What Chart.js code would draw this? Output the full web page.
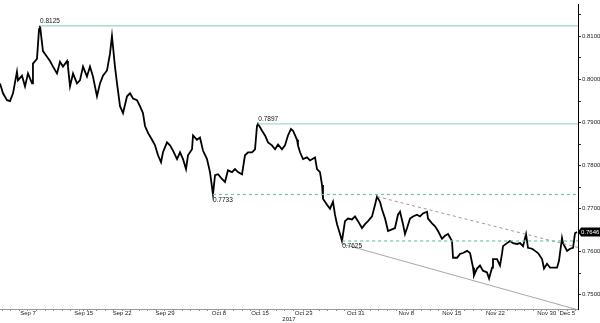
<!DOCTYPE html>
<html lang="en">
<head>
  <meta charset="UTF-8">
  <title>AUD/USD - Sep to Dec 2017</title>
  <script src="https://cdn.jsdelivr.net/npm/chart.js"></script>
  <style>
    body { margin: 0; background: #fff; }
    #wrap { width: 600px; height: 323px; }
  </style>
</head>
<body>
  <div id="wrap"><canvas id="chart"></canvas></div>

  <script>
    // x = trading days counted from Sep 7 2017
    const days = [
      -3.27, -2.92, -2.45, -2.10, -1.75, -1.29, -1.17, -0.70, -0.35, 0.00,
      0.47, 0.58, 1.05, 1.29, 1.40, 1.75, 2.22, 2.57, 2.92, 3.39,
      3.74, 4.09, 4.56, 4.67, 4.91, 5.26, 5.72, 6.07, 6.43, 6.89,
      7.24, 7.59, 8.06, 8.41, 8.76, 9.23, 9.58, 9.81, 10.16, 10.40,
      10.75, 11.10, 11.57, 11.92, 12.27, 12.73, 13.08, 13.43, 13.67, 14.02,
      14.49, 14.84, 15.19, 15.54, 15.77, 16.24, 16.59, 16.94, 17.41, 17.76,
      18.11, 18.46, 18.69, 19.16, 19.28, 19.74, 20.09, 20.44, 20.91, 21.26,
      21.61, 21.85, 22.20, 22.66, 23.01, 23.36, 23.83, 24.18, 24.53, 25.00,
      25.35, 25.70, 26.17, 26.52, 26.75, 26.87, 27.34, 27.69, 28.04, 28.50,
      28.86, 29.21, 29.67, 30.02, 30.37, 30.72, 30.96, 31.43, 31.54, 31.78,
      32.13, 32.59, 32.94, 33.53, 33.76, 34.11, 34.35, 34.46, 34.93, 35.28,
      35.63, 35.86, 36.10, 36.45, 36.68, 37.03, 37.38, 37.85, 38.20, 38.55,
      39.02, 39.37, 39.72, 40.19, 40.54, 40.77, 41.12, 41.36, 41.71, 42.06,
      42.52, 42.87, 43.22, 43.46, 43.81, 44.04, 44.28, 44.63, 44.98, 45.44,
      45.79, 46.14, 46.61, 46.73, 47.20, 47.55, 47.90, 48.36, 48.71, 49.07,
      49.53, 49.65, 50.12, 50.47, 50.82, 51.29, 51.64, 51.99, 52.10, 52.45,
      52.80, 53.15, 53.62, 53.86, 54.21, 54.32, 54.79, 55.14, 55.37, 55.49,
      55.96, 56.31, 56.66, 57.13, 57.48, 57.83, 58.18, 58.41, 58.88, 59.23,
      59.58, 60.05, 60.28, 60.63, 60.98, 61.33, 61.80, 62.03, 62.38, 62.50,
      62.97, 63.32, 63.67, 63.90, 64.14
    ];
    const prices = [
      0.7991, 0.7968, 0.7952, 0.7950, 0.7968, 0.8018, 0.7998, 0.8009, 0.7984, 0.8014,
      0.7991, 0.8037, 0.8048, 0.8117, 0.8125, 0.8066, 0.8053, 0.8043, 0.8030, 0.8014,
      0.8041, 0.8030, 0.8043, 0.8030, 0.7984, 0.8014, 0.7991, 0.7998, 0.8030, 0.8007,
      0.8030, 0.8007, 0.7961, 0.7991, 0.8009, 0.8021, 0.8060, 0.8101, 0.8030, 0.7991,
      0.7938, 0.7922, 0.7961, 0.7968, 0.7956, 0.7952, 0.7938, 0.7922, 0.7892, 0.7876,
      0.7860, 0.7847, 0.7824, 0.7808, 0.7831, 0.7854, 0.7847, 0.7835, 0.7815, 0.7831,
      0.7815, 0.7792, 0.7824, 0.7838, 0.7870, 0.7860, 0.7865, 0.7835, 0.7815, 0.7785,
      0.7733, 0.7778, 0.7780, 0.7769, 0.7762, 0.7789, 0.7785, 0.7792, 0.7785, 0.7780,
      0.7824, 0.7831, 0.7831, 0.7838, 0.7892, 0.7897, 0.7881, 0.7870, 0.7854, 0.7847,
      0.7838, 0.7849, 0.7838, 0.7847, 0.7870, 0.7885, 0.7881, 0.7860, 0.7847, 0.7831,
      0.7815, 0.7819, 0.7812, 0.7819, 0.7792, 0.7785, 0.7755, 0.7723, 0.7709, 0.7700,
      0.7716, 0.7686, 0.7664, 0.7641, 0.7625, 0.7671, 0.7677, 0.7675, 0.7682, 0.7671,
      0.7655, 0.7664, 0.7671, 0.7682, 0.7709, 0.7728, 0.7716, 0.7698, 0.7677, 0.7648,
      0.7652, 0.7655, 0.7686, 0.7693, 0.7664, 0.7641, 0.7655, 0.7677, 0.7682, 0.7686,
      0.7682, 0.7689, 0.7693, 0.7677, 0.7666, 0.7659, 0.7648, 0.7630, 0.7637, 0.7641,
      0.7625, 0.7586, 0.7586, 0.7595, 0.7597, 0.7602, 0.7597, 0.7563, 0.7545, 0.7561,
      0.7568, 0.7556, 0.7552, 0.7538, 0.7563, 0.7583, 0.7583, 0.7568, 0.7595, 0.7613,
      0.7620, 0.7625, 0.7620, 0.7618, 0.7620, 0.7613, 0.7641, 0.7609, 0.7607, 0.7602,
      0.7597, 0.7583, 0.7561, 0.7572, 0.7563, 0.7563, 0.7563, 0.7579, 0.7632, 0.7620,
      0.7602, 0.7607, 0.7609, 0.7643, 0.7646
    ];

    // axis labels
    const tickDays = [0, 6.5, 11, 16, 22.3, 27.1, 32.2, 38.3, 44.2, 49.5, 54.6, 60.6, 63];
    const tickLabels = ['Sep 7', 'Sep 15', 'Sep 22', 'Sep 29', 'Oct 8', 'Oct 15', 'Oct 23',
                        'Oct 31', 'Nov 8', 'Nov 15', 'Nov 22', 'Nov 30', 'Dec 5'];
    const yTicks = [0.7500, 0.7600, 0.7700, 0.7800, 0.7900, 0.8000, 0.8100];
    const xMin = -3.27, xMax = 64.25;
    const yMin = 0.7467, yMax = 0.8174;

    // support / resistance levels and where they start
    const levels = [0.8125, 0.7897, 0.7733, 0.7625];
    const levelStart = [1.4, 26.9, 21.6, 36.7];
    const levelDashed = [false, false, true, true];

    // trend lines [startDay, startPrice, endDay, endPrice]
    const upperTrend = [40.8, 0.7728, 64.25, 0.7610];
    const lowerTrend = [36.7, 0.7618, 64.25, 0.7465];

    const levelSets = levels.map((lv, i) => ({
      data: [{ x: levelStart[i], y: lv }, { x: xMax, y: lv }],
      borderColor: levelDashed[i] ? '#6fc2a8' : '#a6dccb',
      borderWidth: levelDashed[i] ? 1.2 : 1.4,
      borderDash: levelDashed[i] ? [3, 3] : [],
      pointRadius: 0
    }));

    const trendSets = [
      { data: [{ x: upperTrend[0], y: upperTrend[1] }, { x: upperTrend[2], y: upperTrend[3] }],
        borderColor: '#9a9a9a', borderWidth: 1, borderDash: [3, 3], pointRadius: 0 },
      { data: [{ x: lowerTrend[0], y: lowerTrend[1] }, { x: lowerTrend[2], y: lowerTrend[3] }],
        borderColor: '#a8a8a8', borderWidth: 1, pointRadius: 0 }
    ];

    const priceSet = {
      data: days.map((d, i) => ({ x: d, y: prices[i] })),
      borderColor: '#000',
      borderWidth: 1.8,
      borderJoinStyle: 'miter',
      pointRadius: 0,
      tension: 0
    };

    // level texts and last price box
    const labelPlugin = {
      id: 'labels',
      afterDatasetsDraw(chart) {
        const { ctx, scales: { x, y }, chartArea } = chart;
        ctx.save();
        ctx.font = '6.5px "Liberation Sans", sans-serif';
        ctx.fillStyle = '#111';
        ctx.textAlign = 'left';
        levels.forEach((lv, i) => {
          const px = x.getPixelForValue(levelStart[i]);
          const py = y.getPixelForValue(lv);
          const above = i < 2;
          ctx.textBaseline = above ? 'bottom' : 'top';
          ctx.fillText(lv.toFixed(4), px, above ? py - 1 : py + 2);
        });
      },
      afterDraw(chart) {
        const { ctx, scales: { y }, chartArea } = chart;
        const last = prices[prices.length - 1];
        const ly = y.getPixelForValue(last);
        const r = chartArea.right;
        ctx.save();
        ctx.fillStyle = '#000';
        ctx.beginPath();
        ctx.moveTo(r, ly);
        ctx.lineTo(r + 3, ly - 4.5);
        ctx.lineTo(600, ly - 4.5);
        ctx.lineTo(600, ly + 4.5);
        ctx.lineTo(r + 3, ly + 4.5);
        ctx.closePath();
        ctx.fill();
        ctx.fillStyle = '#fff';
        ctx.font = '6px "Liberation Sans", sans-serif';
        ctx.textAlign = 'left';
        ctx.textBaseline = 'middle';
        ctx.fillText(last.toFixed(4), r + 3, ly + 0.5);
        ctx.restore();
      }
    };

    new Chart(document.getElementById('chart'), {
      type: 'line',
      data: { datasets: [...levelSets, ...trendSets, priceSet] },
      options: {
        responsive: true,
        maintainAspectRatio: false,
        animation: false,
        layout: { padding: 0 },
        plugins: { legend: { display: false }, tooltip: { enabled: false } },
        scales: {
          x: {
            type: 'linear',
            min: xMin,
            max: xMax,
            afterBuildTicks(scale) {
              const t = tickDays.map(v => ({ value: v }));
              for (let d = -3; d <= 64; d++) {
                if (!tickDays.some(v => Math.abs(v - d) < 0.5)) t.push({ value: d });
              }
              scale.ticks = t.sort((a, b) => a.value - b.value);
            },
            afterFit(scale) { scale.height = 14; },
            ticks: {
              autoSkip: false,
              maxRotation: 0,
              padding: -1,
              color: '#222',
              font: { family: '"Liberation Sans", sans-serif', size: 6 },
              callback(v) {
                const i = tickDays.indexOf(v);
                return i >= 0 ? tickLabels[i] : '';
              }
            },
            grid: { drawOnChartArea: false, tickLength: 2, color: '#888' },
            border: { color: '#999', width: 1 },
            title: {
              display: true,
              text: '2017',
              padding: 0,
              color: '#222',
              font: { family: '"Liberation Sans", sans-serif', size: 6 }
            }
          },
          y: {
            position: 'right',
            min: yMin,
            max: yMax,
            afterBuildTicks(scale) {
              const t = [];
              yTicks.forEach(v => {
                t.push({ value: v });
                t.push({ value: v + 0.005 });
              });
              scale.ticks = t;
            },
            afterFit(scale) { scale.width = 22; },
            ticks: {
              autoSkip: false,
              padding: 1,
              color: '#222',
              font: { family: '"Liberation Sans", sans-serif', size: 6 },
              callback(v) {
                return yTicks.some(t => Math.abs(t - v) < 1e-6) ? v.toFixed(4) : '';
              }
            },
            grid: { drawOnChartArea: false, tickLength: 3, color: '#333' },
            border: { color: '#000', width: 1 }
          }
        }
      },
      plugins: [labelPlugin]
    });
  </script>
</body>
</html>
